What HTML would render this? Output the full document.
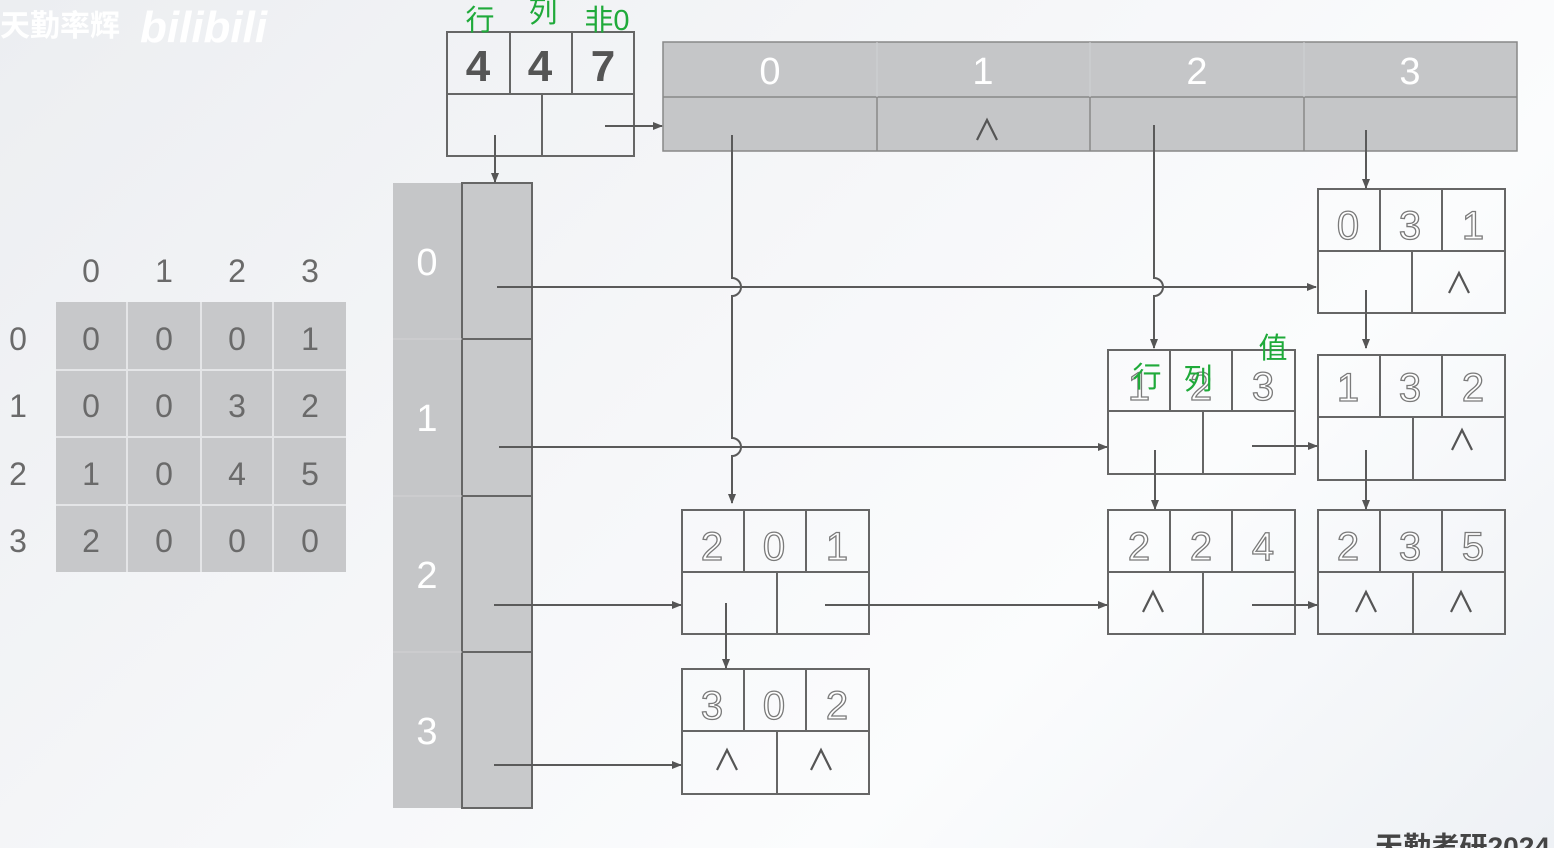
<!DOCTYPE html>
<html><head><meta charset="utf-8">
<style>
html,body{margin:0;padding:0;width:1554px;height:848px;overflow:hidden;}
body{background:linear-gradient(135deg,#eceef1 0%,#f6f7f9 45%,#fbfcfd 70%,#eef1f5 100%);}
svg{display:block;}
.num{font-family:"Liberation Sans",sans-serif;font-size:40px;fill:#fff;stroke:#7a7a7a;stroke-width:1.3px;text-anchor:middle;}
.hdr{font-family:"Liberation Sans",sans-serif;font-size:38px;fill:#fff;text-anchor:middle;}
.mat{font-family:"Liberation Sans",sans-serif;font-size:32px;fill:#6a6a6a;text-anchor:middle;}
.grn{font-family:"Liberation Sans","Noto Sans CJK SC",sans-serif;font-size:29px;fill:#1faa3a;text-anchor:middle;}
.box{fill:none;stroke:#666;stroke-width:2;}
.ln{fill:none;stroke:#5a5a5a;stroke-width:2;}
.cr{fill:none;stroke:#555;stroke-width:2.2;}
</style></head><body>
<svg width="1554" height="848" viewBox="0 0 1554 848" xmlns="http://www.w3.org/2000/svg">
<defs>
<marker id="a" markerWidth="10" markerHeight="10" refX="9" refY="5" orient="auto" markerUnits="userSpaceOnUse">
<path d="M0,1 L10,5 L0,9 z" fill="#555"/></marker>
</defs>

<text x="0" y="36" font-family="Liberation Sans,Noto Sans CJK SC,sans-serif" font-size="30" fill="#fff" font-weight="bold">天勤率辉</text>
<text x="140" y="42" font-family="Liberation Sans,sans-serif" font-size="44" fill="#fff" font-weight="bold" font-style="italic">bilibili</text>
<text x="1375" y="856" font-family="Liberation Sans,Noto Sans CJK SC,sans-serif" font-size="27" fill="#444" font-weight="bold" textLength="175" lengthAdjust="spacingAndGlyphs">天勤考研2024</text>

<rect x="56" y="302" width="290" height="270" fill="#c7c8ca"/>
<g stroke="#e4e5e7" stroke-width="2">
<line x1="127" y1="302" x2="127" y2="572"/><line x1="201" y1="302" x2="201" y2="572"/><line x1="273" y1="302" x2="273" y2="572"/>
<line x1="56" y1="370" x2="346" y2="370"/><line x1="56" y1="437" x2="346" y2="437"/><line x1="56" y1="505" x2="346" y2="505"/>
</g>
<g class="mat">
<text x="91" y="282">0</text><text x="164" y="282">1</text><text x="237" y="282">2</text><text x="310" y="282">3</text>
<text x="18" y="350">0</text><text x="18" y="417">1</text><text x="18" y="485">2</text><text x="18" y="552">3</text>
<text x="91" y="350">0</text><text x="164" y="350">0</text><text x="237" y="350">0</text><text x="310" y="350">1</text>
<text x="91" y="417">0</text><text x="164" y="417">0</text><text x="237" y="417">3</text><text x="310" y="417">2</text>
<text x="91" y="485">1</text><text x="164" y="485">0</text><text x="237" y="485">4</text><text x="310" y="485">5</text>
<text x="91" y="552">2</text><text x="164" y="552">0</text><text x="237" y="552">0</text><text x="310" y="552">0</text>
</g>

<rect x="447" y="32" width="187" height="124" fill="#fafafa" class="box"/>
<line class="box" x1="447" y1="94" x2="634" y2="94"/>
<line class="box" x1="510" y1="32" x2="510" y2="94"/><line class="box" x1="572" y1="32" x2="572" y2="94"/>
<line class="box" x1="542" y1="94" x2="542" y2="156"/>
<g font-family="Liberation Sans,sans-serif" font-size="44" font-weight="bold" fill="#555" text-anchor="middle">
<text x="478" y="81">4</text><text x="540" y="81">4</text><text x="603" y="81">7</text></g>
<text class="grn" x="480" y="30">行</text><text class="grn" x="543" y="22">列</text><text class="grn" x="607" y="30">非0</text>

<rect x="663" y="42" width="854" height="109" fill="#c5c6c8" stroke="#888" stroke-width="1.5"/>
<line x1="663" y1="97" x2="1517" y2="97" stroke="#888" stroke-width="1.5"/>
<g stroke="#888" stroke-width="1.5"><line x1="877" y1="97" x2="877" y2="151"/><line x1="1090" y1="97" x2="1090" y2="151"/><line x1="1304" y1="97" x2="1304" y2="151"/></g>
<g stroke="#d0d1d3" stroke-width="1"><line x1="877" y1="42" x2="877" y2="97"/><line x1="1090" y1="42" x2="1090" y2="97"/><line x1="1304" y1="42" x2="1304" y2="97"/></g>
<g class="hdr"><text x="770" y="84">0</text><text x="983" y="84">1</text><text x="1197" y="84">2</text><text x="1410" y="84">3</text></g>

<rect x="393" y="183" width="70" height="625" fill="#c5c6c8"/>
<rect x="462" y="183" width="70" height="625" fill="#c8c9cb" stroke="#666" stroke-width="2"/>
<g stroke="#666" stroke-width="2"><line x1="462" y1="339" x2="532" y2="339"/><line x1="462" y1="496" x2="532" y2="496"/><line x1="462" y1="652" x2="532" y2="652"/></g>
<g stroke="#d2d3d5" stroke-width="1"><line x1="393" y1="339" x2="462" y2="339"/><line x1="393" y1="496" x2="462" y2="496"/><line x1="393" y1="652" x2="462" y2="652"/></g>
<g class="hdr"><text x="427" y="275">0</text><text x="427" y="431">1</text><text x="427" y="588">2</text><text x="427" y="744">3</text></g>

<g transform="translate(1318,189)"><rect width="187" height="124" fill="#f7f8fa" class="box"/><line class="box" x1="0" y1="62" x2="187" y2="62"/><line class="box" x1="62" y1="0" x2="62" y2="62"/><line class="box" x1="124" y1="0" x2="124" y2="62"/><line class="box" x1="94" y1="62" x2="94" y2="124"/>
<text class="num" x="30" y="50">0</text><text class="num" x="92" y="50">3</text><text class="num" x="155" y="50">1</text></g>

<g transform="translate(1108,350)"><rect width="187" height="124" fill="#f9fafb" class="box"/><line class="box" x1="0" y1="61" x2="187" y2="61"/><line class="box" x1="62" y1="0" x2="62" y2="61"/><line class="box" x1="124" y1="0" x2="124" y2="61"/><line class="box" x1="95" y1="61" x2="95" y2="124"/>
<text class="num" x="31" y="50">1</text><text class="num" x="93" y="50">2</text><text class="num" x="155" y="50">3</text></g>
<text class="grn" x="1147" y="387">行</text><text class="grn" x="1198" y="389">列</text><text class="grn" x="1273" y="358">值</text>

<g transform="translate(1318,355)"><rect width="187" height="125" fill="#f9fafb" class="box"/><line class="box" x1="0" y1="62" x2="187" y2="62"/><line class="box" x1="62" y1="0" x2="62" y2="62"/><line class="box" x1="124" y1="0" x2="124" y2="62"/><line class="box" x1="95" y1="62" x2="95" y2="125"/>
<text class="num" x="30" y="46">1</text><text class="num" x="92" y="46">3</text><text class="num" x="155" y="46">2</text></g>

<g transform="translate(682,510)"><rect width="187" height="124" fill="#fafbfc" class="box"/><line class="box" x1="0" y1="62" x2="187" y2="62"/><line class="box" x1="62" y1="0" x2="62" y2="62"/><line class="box" x1="124" y1="0" x2="124" y2="62"/><line class="box" x1="95" y1="62" x2="95" y2="124"/>
<text class="num" x="30" y="50">2</text><text class="num" x="92" y="50">0</text><text class="num" x="155" y="50">1</text></g>

<g transform="translate(1108,510)"><rect width="187" height="124" fill="#fafbfc" class="box"/><line class="box" x1="0" y1="62" x2="187" y2="62"/><line class="box" x1="62" y1="0" x2="62" y2="62"/><line class="box" x1="124" y1="0" x2="124" y2="62"/><line class="box" x1="95" y1="62" x2="95" y2="124"/>
<text class="num" x="31" y="50">2</text><text class="num" x="93" y="50">2</text><text class="num" x="155" y="50">4</text></g>

<g transform="translate(1318,510)"><rect width="187" height="124" fill="#fafbfc" class="box"/><line class="box" x1="0" y1="62" x2="187" y2="62"/><line class="box" x1="62" y1="0" x2="62" y2="62"/><line class="box" x1="124" y1="0" x2="124" y2="62"/><line class="box" x1="95" y1="62" x2="95" y2="124"/>
<text class="num" x="30" y="50">2</text><text class="num" x="92" y="50">3</text><text class="num" x="155" y="50">5</text></g>

<g transform="translate(682,669)"><rect width="187" height="125" fill="#fafbfc" class="box"/><line class="box" x1="0" y1="62" x2="187" y2="62"/><line class="box" x1="62" y1="0" x2="62" y2="62"/><line class="box" x1="124" y1="0" x2="124" y2="62"/><line class="box" x1="95" y1="62" x2="95" y2="125"/>
<text class="num" x="30" y="50">3</text><text class="num" x="92" y="50">0</text><text class="num" x="155" y="50">2</text></g>

<!-- carets -->
<g class="cr">
<path d="M977,140 L987,120 L997,140"/>
<path d="M1449,293 L1459,273 L1469,293"/>
<path d="M1452,450 L1462,430 L1472,450"/>
<path d="M1143,612 L1153,592 L1163,612"/>
<path d="M1356,612 L1366,592 L1376,612"/>
<path d="M1451,612 L1461,592 L1471,612"/>
<path d="M717,770 L727,750 L737,770"/>
<path d="M811,770 L821,750 L831,770"/>
</g>

<g class="ln">
<line x1="495" y1="135" x2="495" y2="182" marker-end="url(#a)"/>
<line x1="605" y1="126" x2="662" y2="126" marker-end="url(#a)"/>
<path d="M732,135 L732,278 A9,9 0 0 1 732,296 L732,438 A9,9 0 0 1 732,456 L732,503" marker-end="url(#a)"/>
<path d="M1154,125 L1154,278 A9,9 0 0 1 1154,296 L1154,348" marker-end="url(#a)"/>
<line x1="1366" y1="130" x2="1366" y2="188" marker-end="url(#a)"/>
<line x1="497" y1="287" x2="1316" y2="287" marker-end="url(#a)"/>
<line x1="499" y1="447" x2="1107" y2="447" marker-end="url(#a)"/>
<line x1="494" y1="605" x2="681" y2="605" marker-end="url(#a)"/>
<line x1="494" y1="765" x2="681" y2="765" marker-end="url(#a)"/>
<line x1="726" y1="603" x2="726" y2="668" marker-end="url(#a)"/>
<line x1="825" y1="605" x2="1107" y2="605" marker-end="url(#a)"/>
<line x1="1155" y1="450" x2="1155" y2="509" marker-end="url(#a)"/>
<line x1="1252" y1="446" x2="1317" y2="446" marker-end="url(#a)"/>
<line x1="1366" y1="290" x2="1366" y2="348" marker-end="url(#a)"/>
<line x1="1366" y1="450" x2="1366" y2="509" marker-end="url(#a)"/>
<line x1="1252" y1="605" x2="1317" y2="605" marker-end="url(#a)"/>
</g>
</svg>
</body></html>
